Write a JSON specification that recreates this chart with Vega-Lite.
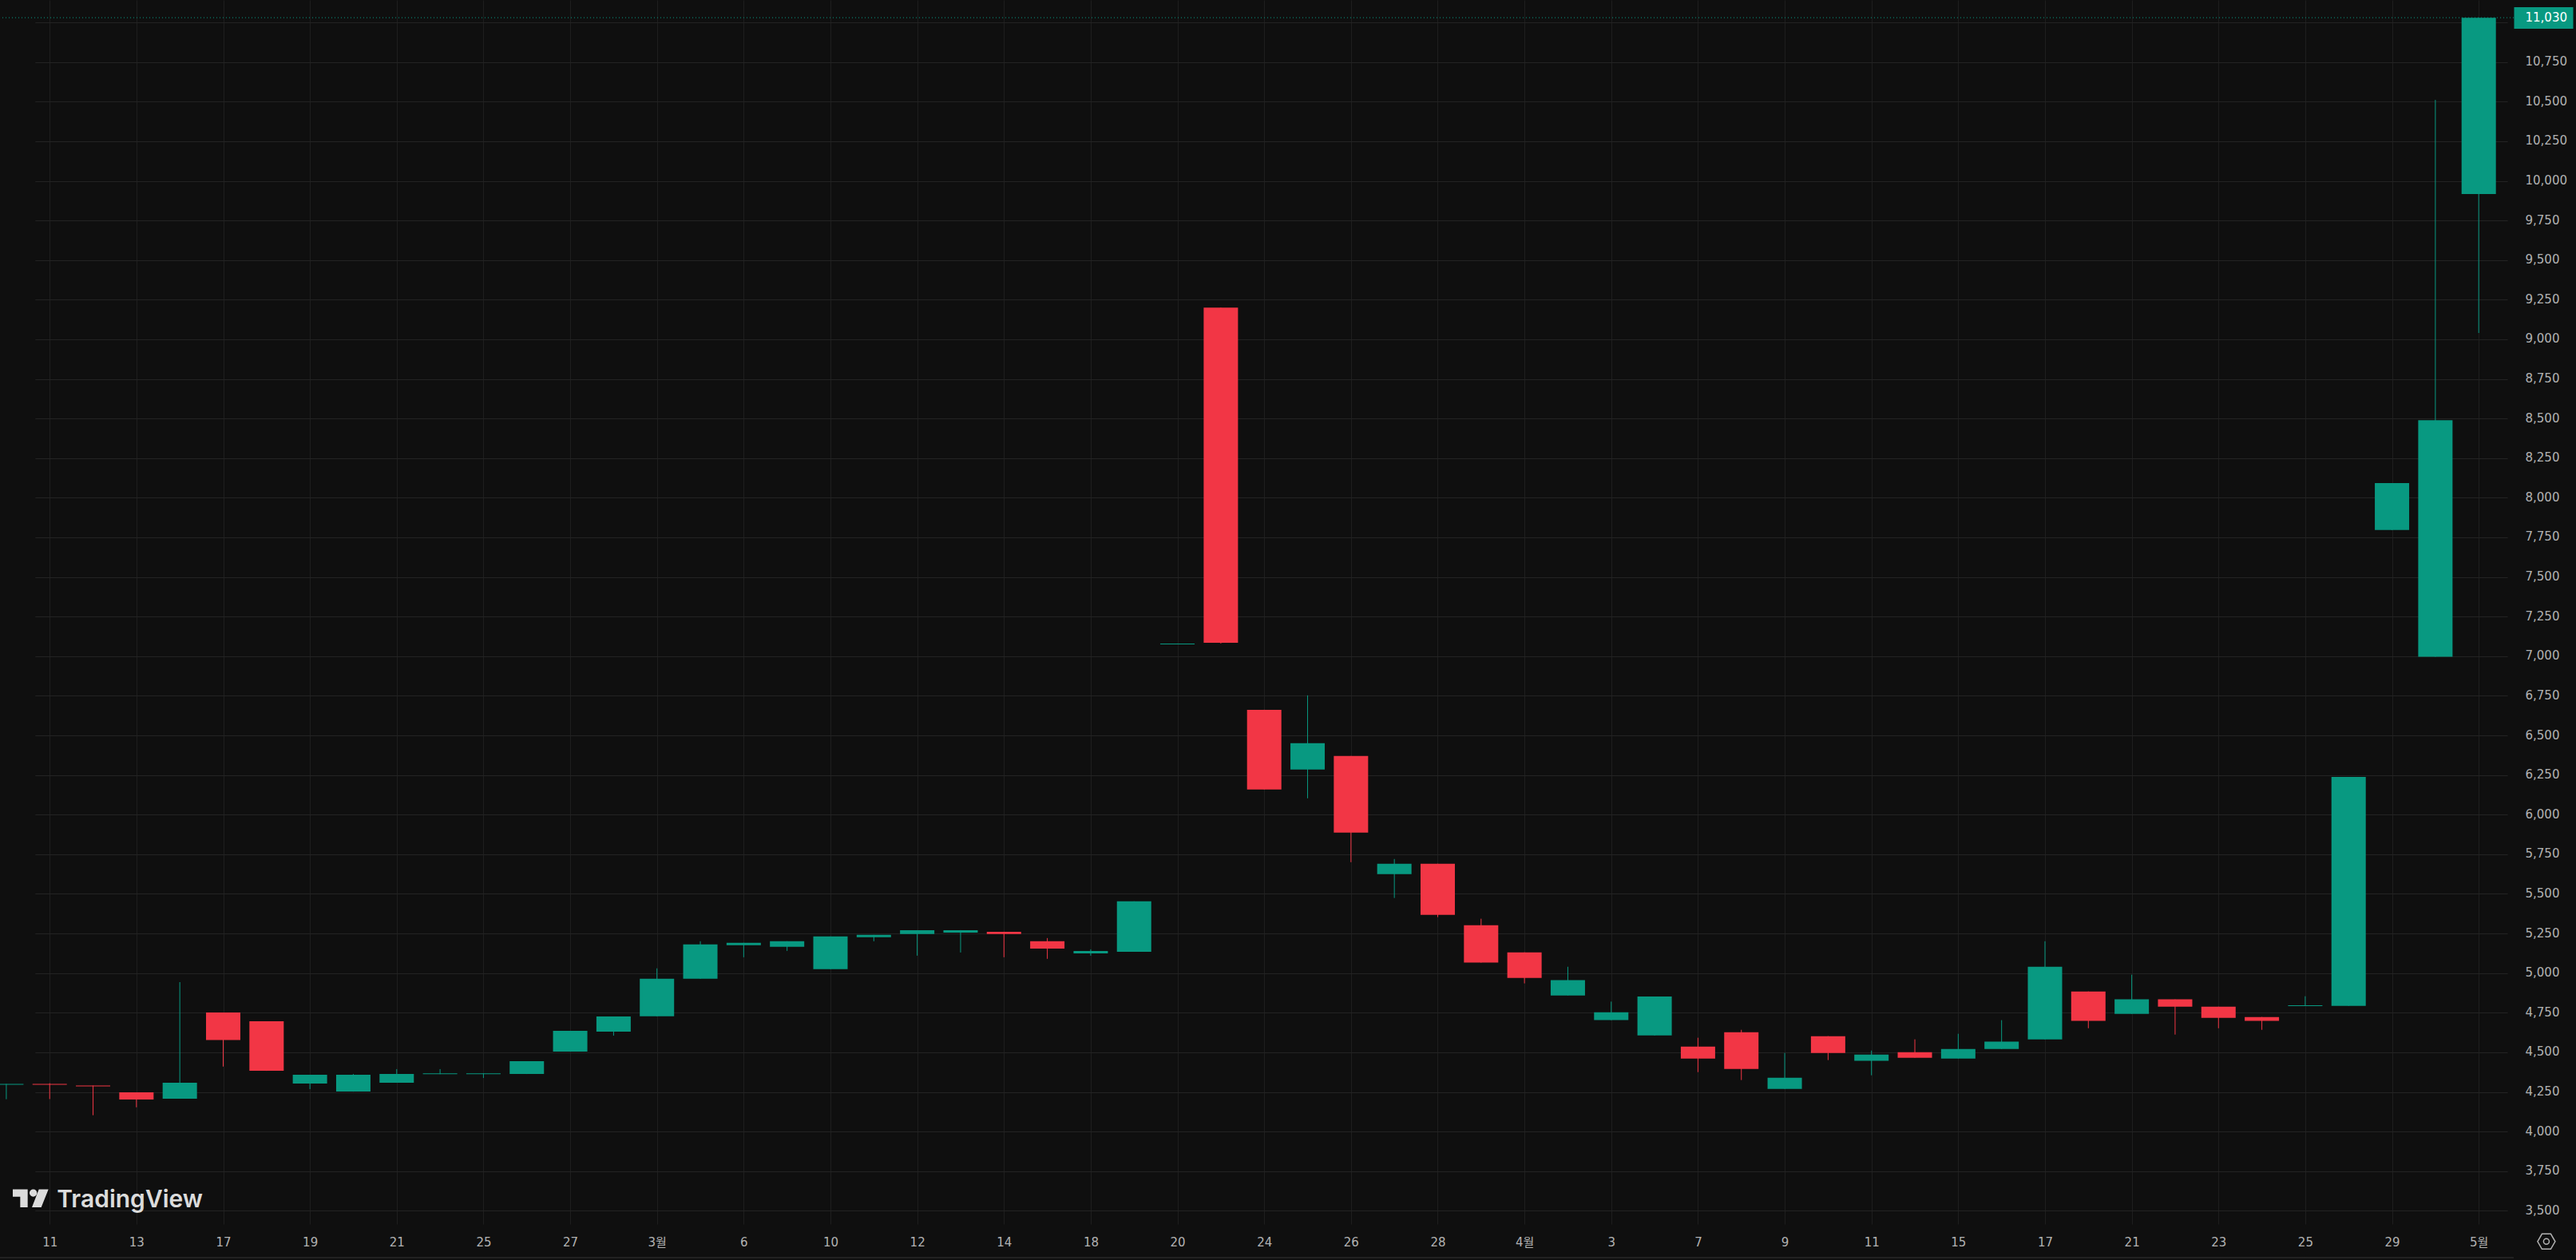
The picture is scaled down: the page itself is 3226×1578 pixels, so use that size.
{"$schema":"https://vega.github.io/schema/vega-lite/v6.json","width":3148,"height":1533,"autosize":{"type":"none"},"padding":{"left":0,"top":0,"right":78,"bottom":45},"background":"#0f0f0f","config":{"view":{"stroke":null}},"data":{"values":[
{"date":"2025-02-10","open":4295,"high":4300,"low":4204,"close":4300},
{"date":"2025-02-11","open":4300,"high":4305,"low":4205,"close":4295},
{"date":"2025-02-12","open":4290,"high":4290,"low":4103,"close":4285},
{"date":"2025-02-13","open":4247,"high":4247,"low":4153,"close":4202},
{"date":"2025-02-14","open":4207,"high":4943,"low":4207,"close":4308},
{"date":"2025-02-17","open":4751,"high":4751,"low":4410,"close":4577},
{"date":"2025-02-18","open":4696,"high":4696,"low":4383,"close":4383},
{"date":"2025-02-19","open":4303,"high":4358,"low":4268,"close":4358},
{"date":"2025-02-20","open":4252,"high":4363,"low":4252,"close":4358},
{"date":"2025-02-21","open":4308,"high":4394,"low":4308,"close":4363},
{"date":"2025-02-24","open":4362,"high":4394,"low":4362,"close":4367},
{"date":"2025-02-25","open":4362,"high":4367,"low":4338,"close":4367},
{"date":"2025-02-26","open":4363,"high":4444,"low":4363,"close":4444},
{"date":"2025-02-27","open":4504,"high":4635,"low":4504,"close":4635},
{"date":"2025-02-28","open":4630,"high":4726,"low":4605,"close":4726},
{"date":"2025-03-04","open":4727,"high":5030,"low":4727,"close":4964},
{"date":"2025-03-05","open":4964,"high":5201,"low":4964,"close":5181},
{"date":"2025-03-06","open":5176,"high":5191,"low":5100,"close":5191},
{"date":"2025-03-07","open":5166,"high":5201,"low":5140,"close":5201},
{"date":"2025-03-10","open":5025,"high":5231,"low":5025,"close":5231},
{"date":"2025-03-11","open":5226,"high":5241,"low":5201,"close":5241},
{"date":"2025-03-12","open":5246,"high":5271,"low":5110,"close":5271},
{"date":"2025-03-13","open":5256,"high":5271,"low":5130,"close":5271},
{"date":"2025-03-14","open":5261,"high":5261,"low":5100,"close":5246},
{"date":"2025-03-17","open":5201,"high":5221,"low":5090,"close":5155},
{"date":"2025-03-18","open":5125,"high":5150,"low":5110,"close":5140},
{"date":"2025-03-19","open":5135,"high":5453,"low":5135,"close":5453},
{"date":"2025-03-20","open":7075,"high":7080,"low":7075,"close":7080},
{"date":"2025-03-21","open":9200,"high":9200,"low":7080,"close":7085},
{"date":"2025-03-24","open":6662,"high":6662,"low":6159,"close":6159},
{"date":"2025-03-25","open":6285,"high":6753,"low":6103,"close":6451},
{"date":"2025-03-26","open":6370,"high":6370,"low":5700,"close":5887},
{"date":"2025-03-27","open":5625,"high":5720,"low":5474,"close":5690},
{"date":"2025-03-28","open":5690,"high":5690,"low":5353,"close":5368},
{"date":"2025-03-31","open":5302,"high":5343,"low":5066,"close":5066},
{"date":"2025-04-01","open":5131,"high":5131,"low":4935,"close":4970},
{"date":"2025-04-02","open":4859,"high":5040,"low":4859,"close":4955},
{"date":"2025-04-03","open":4703,"high":4820,"low":4703,"close":4753},
{"date":"2025-04-04","open":4606,"high":4852,"low":4606,"close":4852},
{"date":"2025-04-07","open":4536,"high":4592,"low":4375,"close":4461},
{"date":"2025-04-08","open":4627,"high":4642,"low":4325,"close":4395},
{"date":"2025-04-09","open":4269,"high":4496,"low":4269,"close":4340},
{"date":"2025-04-10","open":4602,"high":4602,"low":4451,"close":4496},
{"date":"2025-04-11","open":4446,"high":4511,"low":4355,"close":4486},
{"date":"2025-04-14","open":4501,"high":4582,"low":4466,"close":4466},
{"date":"2025-04-15","open":4461,"high":4617,"low":4461,"close":4521},
{"date":"2025-04-16","open":4521,"high":4703,"low":4521,"close":4567},
{"date":"2025-04-17","open":4582,"high":5201,"low":4582,"close":5040},
{"date":"2025-04-18","open":4884,"high":4884,"low":4652,"close":4698},
{"date":"2025-04-21","open":4743,"high":4990,"low":4743,"close":4834},
{"date":"2025-04-22","open":4834,"high":4834,"low":4612,"close":4788},
{"date":"2025-04-23","open":4788,"high":4788,"low":4652,"close":4718},
{"date":"2025-04-24","open":4723,"high":4723,"low":4642,"close":4698},
{"date":"2025-04-25","open":4792,"high":4854,"low":4792,"close":4797},
{"date":"2025-04-28","open":4793,"high":6238,"low":4793,"close":6238},
{"date":"2025-04-29","open":7796,"high":8092,"low":7796,"close":8092},
{"date":"2025-04-30","open":6996,"high":10511,"low":6996,"close":8490},
{"date":"2025-05-02","open":9917,"high":11030,"low":9040,"close":11030}
]},
"resolve":{"axis":{"y":"independent"}},
"layer":[
{"mark":{"type":"rule","strokeWidth":1},"encoding":{
"x":{"field":"date","type":"ordinal","scale":{"type":"point","padding":0,"range":[7.9,3104.2]},"axis":{"title":null,"orient":"bottom","values":["2025-02-11","2025-02-13","2025-02-17","2025-02-19","2025-02-21","2025-02-25","2025-02-27","2025-03-04","2025-03-06","2025-03-10","2025-03-12","2025-03-14","2025-03-18","2025-03-20","2025-03-24","2025-03-26","2025-03-28","2025-04-01","2025-04-03","2025-04-07","2025-04-09","2025-04-11","2025-04-15","2025-04-17","2025-04-21","2025-04-23","2025-04-25","2025-04-29","2025-05-02"],"labelExpr":"datum.value=='2025-03-04'?'3월':datum.value=='2025-04-01'?'4월':datum.value=='2025-05-02'?'5월':''+toNumber(slice(datum.value,8,10))","labelAngle":0,"labelFont":"DejaVu Sans, Noto Sans CJK KR","labelFontSize":15,"labelColor":"#b2b2b2","labelPadding":15,"ticks":false,"domain":false,"grid":true,"gridColor":"#1e1e1e","gridWidth":1,"labelOverlap":false}},
"y":{"field":"low","type":"quantitative","scale":{"domain":[3416,11141.5],"nice":false,"zero":false},"axis":{"title":null,"orient":"right","values":[3500,3750,4000,4250,4500,4750,5000,5250,5500,5750,6000,6250,6500,6750,7000,7250,7500,7750,8000,8250,8500,8750,9000,9250,9500,9750,10000,10250,10500,10750,11000],"labelExpr":"datum.value==11000?'':format(datum.value,',')","labelAlign":"left","labelBaseline":"middle","labelFont":"DejaVu Sans","labelFontSize":15,"labelColor":"#b2b2b2","labelPadding":14,"labelOffset":-1,"ticks":false,"domain":false,"grid":true,"gridColor":"#232323","gridWidth":1,"labelOverlap":false}},
"y2":{"field":"high"},
"color":{"condition":{"test":"datum.close>=datum.open","value":"#089981"},"value":"#f23645"}}},
{"mark":{"type":"bar","size":43},"encoding":{
"x":{"field":"date","type":"ordinal","scale":{"type":"point","padding":0,"range":[7.9,3104.2]}},
"y":{"field":"open","type":"quantitative","scale":{"domain":[3416,11141.5],"nice":false,"zero":false},"axis":null},
"y2":{"field":"close"},
"color":{"condition":{"test":"datum.close>=datum.open","value":"#089981"},"value":"#f23645"}}},
{"data":{"values":[{"last":11030}]},"mark":{"type":"rule","stroke":"#089981","strokeWidth":1,"strokeDash":[1,3]},"encoding":{
"y":{"field":"last","type":"quantitative","scale":{"domain":[3416,11141.5],"nice":false,"zero":false},"axis":{"title":null,"orient":"right","values":[11030],"labelExpr":"format(datum.value,',')","labelAlign":"left","labelBaseline":"middle","labelFont":"DejaVu Sans","labelFontSize":15,"labelColor":"#ffffff","tickColor":"#089981","tickSize":74,"tickWidth":27,"labelPadding":-60,"labelOffset":-1,"domain":false,"grid":false}}}},
{"data":{"values":[{"edge":3204}]},"mark":{"type":"rule","stroke":"#363636","strokeWidth":1},"encoding":{
"y":{"field":"edge","type":"quantitative","scale":{"domain":[3416,11141.5],"nice":false,"zero":false},"axis":{"title":null,"orient":"right","values":[3204],"labels":false,"tickColor":"#363636","tickSize":78,"tickWidth":1,"domain":false,"grid":false}}}},
{"data":{"values":[{"at":"2025-02-11","v":3522,"label":"TradingView"}]},"mark":{"type":"text","font":"Inter","fontWeight":600,"fontSize":30,"color":"#dcdcdc","align":"left","baseline":"alphabetic","dx":9},"encoding":{
"x":{"field":"at","type":"ordinal","scale":{"type":"point","padding":0,"range":[7.9,3104.2]}},
"y":{"field":"v","type":"quantitative","scale":{"domain":[3416,11141.5],"nice":false,"zero":false},"axis":null},
"text":{"field":"label"}}},
{"data":{"values":[{"at":"2025-02-11","v":3578.6}]},"mark":{"type":"point","filled":true,"fill":"#dcdcdc","stroke":null,"opacity":1,"size":1995,"shape":"M-2.07,-0.507 L-1.234,-0.507 L-1.234,0.507 L-1.652,0.507 L-1.652,-0.09 L-2.07,-0.09 Z M-1.13,-0.299 A0.209,0.209 0 1 1 -0.712,-0.299 A0.209,0.209 0 1 1 -1.13,-0.299 Z M-0.607,-0.507 L-0.07,-0.507 L-0.473,0.507 L-0.995,0.507 Z"},"encoding":{
"x":{"field":"at","type":"ordinal","scale":{"type":"point","padding":0,"range":[7.9,3104.2]}},
"y":{"field":"v","type":"quantitative","scale":{"domain":[3416,11141.5],"nice":false,"zero":false},"axis":null}}},
{"data":{"values":[{"at":"2025-05-02","v":3306}]},"mark":{"type":"point","filled":false,"stroke":"#b2b2b2","strokeWidth":1.5,"opacity":1,"size":484,"shape":"M6.7,0 L7.2,-0.86 L8.2,-0.86 L8.7,0 L8.2,0.86 L7.2,0.86 Z M7.38,0 A0.32,0.32 0 1 1 8.02,0 A0.32,0.32 0 1 1 7.38,0 Z"},"encoding":{
"x":{"field":"at","type":"ordinal","scale":{"type":"point","padding":0,"range":[7.9,3104.2]}},
"y":{"field":"v","type":"quantitative","scale":{"domain":[3416,11141.5],"nice":false,"zero":false},"axis":null}}}
]}
